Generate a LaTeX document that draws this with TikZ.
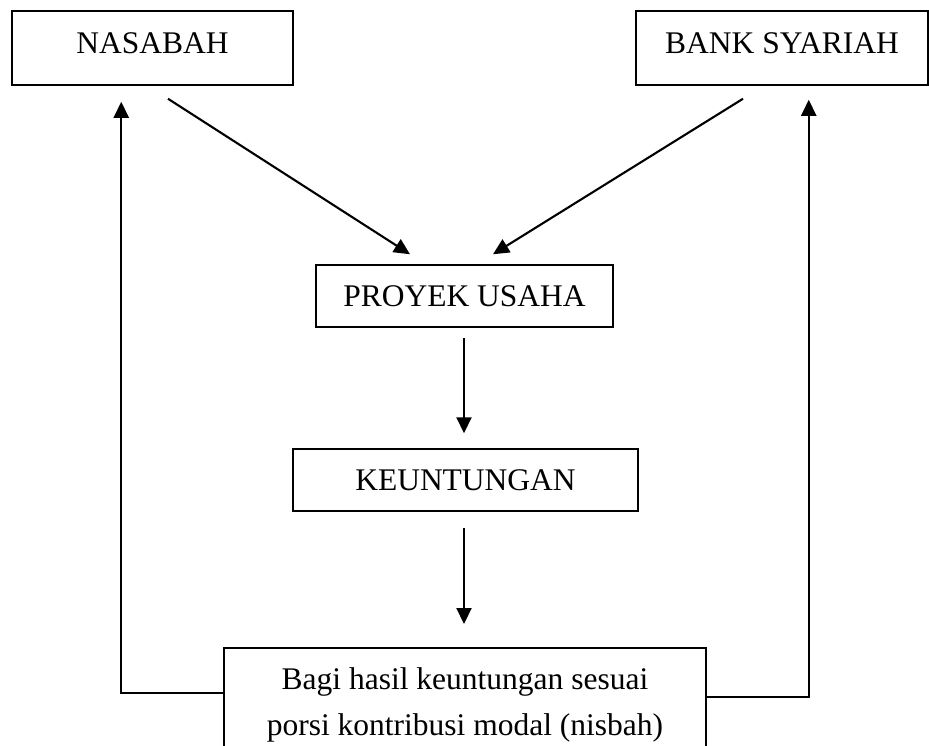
\documentclass[tikz,border=0pt]{standalone}
\usepackage{fontspec}
\setmainfont{Liberation Serif}
\usetikzlibrary{arrows.meta,calc}
\begin{document}
\begin{tikzpicture}[x=1pt,y=-1pt,
  box/.style={draw=black,line width=1.5pt,inner sep=0pt,font=\fontsize{31.5}{46}\selectfont},
  topbox/.style={box,text height=21pt,text depth=11pt},
  conn/.style={line width=2.1pt,-{Triangle[length=16pt,width=15pt]}}]
\useasboundingbox (0,0) rectangle (929,745);
\clip (0,0) rectangle (929,745);
\node[topbox,minimum width=281pt,minimum height=74pt] (nas) at (152.5,48) {NASABAH};
\node[topbox,minimum width=292pt,minimum height=74pt] (bank) at (782,48) {BANK SYARIAH};
\node[box,minimum width=297pt,minimum height=62pt] (proy) at (464.5,296) {PROYEK USAHA};
\node[box,minimum width=345pt,minimum height=62pt] (keu) at (465.5,480) {KEUNTUNGAN};
\node[box,minimum width=482pt,minimum height=115pt,anchor=north,align=center] (bagi) at (465,647) {Bagi hasil keuntungan sesuai\\porsi kontribusi modal (nisbah)};
\draw[conn] ($(nas.south)+(15.5,13)$) -- ($(proy.north)+(-54.5,-10)$);
\draw[conn] ($(bank.south)+(-39,13)$) -- ($(proy.north)+(28.5,-10)$);
\coordinate (a1) at ($(proy.south)+(-0.5,10)$);
\coordinate (a2) at ($(keu.south)+(-1.5,16)$);
\draw[conn] (a1) -- (a1 |- {$(keu.north)+(0,-15)$});
\draw[conn] (a2) -- (a2 |- {$(bagi.north)+(0,-23)$});
\coordinate (lc) at ($(bagi.north west)+(-102,46)$);
\coordinate (rc) at ($(bagi.north east)+(102,50)$);
\draw[conn] ($(bagi.north west)+(0,46)$) -- (lc) -- (lc |- {$(nas.south)+(0,16)$});
\draw[conn] ($(bagi.north east)+(0,50)$) -- (rc) -- (rc |- {$(bank.south)+(0,14)$});
\end{tikzpicture}
\end{document}
